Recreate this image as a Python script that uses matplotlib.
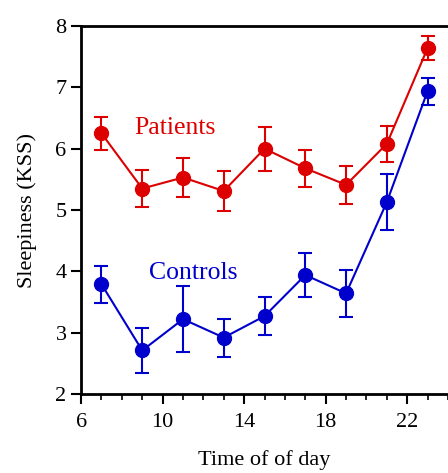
import numpy as np
import matplotlib.pyplot as plt
from matplotlib.ticker import MultipleLocator

hours = [7, 9, 11, 13, 15, 17, 19, 21, 23]
patients = [6.25, 5.35, 5.53, 5.31, 6.00, 5.68, 5.41, 6.08, 7.64]
patients_err = [0.27, 0.30, 0.32, 0.32, 0.36, 0.30, 0.31, 0.29, 0.20]
controls = [3.79, 2.71, 3.22, 2.92, 3.27, 3.94, 3.64, 5.13, 6.94]
controls_err = [0.30, 0.36, 0.54, 0.31, 0.31, 0.36, 0.39, 0.45, 0.22]

red = '#dd0000'
blue = '#0000cc'

plt.rcParams['font.family'] = ['Liberation Serif', 'DejaVu Serif']

fig = plt.figure(figsize=(4.48, 4.73), dpi=100)
ax = fig.add_axes([0.181, 0.167, 0.819, 0.778])

for y, e, col in [(patients, patients_err, red), (controls, controls_err, blue)]:
    ax.errorbar(hours, y, yerr=e, color=col, lw=1.5, elinewidth=1.5,
                capsize=5, capthick=1.5, marker='o', markersize=10,
                markerfacecolor=col, markeredgecolor=col, zorder=3)

ax.text(8.6, 6.34, 'Patients', color=red, fontsize=18.5, va='center', ha='left')
ax.text(9.33, 3.98, 'Controls', color=blue, fontsize=18.5, va='center', ha='left')

ax.set_xlim(6, 24)
ax.set_ylim(2, 8)
ax.set_xticks([6, 10, 14, 18, 22])
ax.xaxis.set_minor_locator(MultipleLocator(1))
ax.set_yticks([2, 3, 4, 5, 6, 7, 8])

for s in ['left', 'bottom', 'top']:
    ax.spines[s].set_linewidth(2)
ax.spines['right'].set_visible(False)

ax.tick_params(axis='both', which='major', direction='out', length=7, width=1.5,
               labelsize=16, top=False, right=False)
ax.tick_params(axis='x', which='major', pad=7)
ax.tick_params(axis='x', which='minor', direction='out', length=4, width=1.2, top=False)

ax.set_xlabel('Time of of day', fontsize=16, labelpad=13)
ax.set_ylabel('Sleepiness (KSS)', fontsize=16, labelpad=13)

fig.savefig('out.png', dpi=100)
